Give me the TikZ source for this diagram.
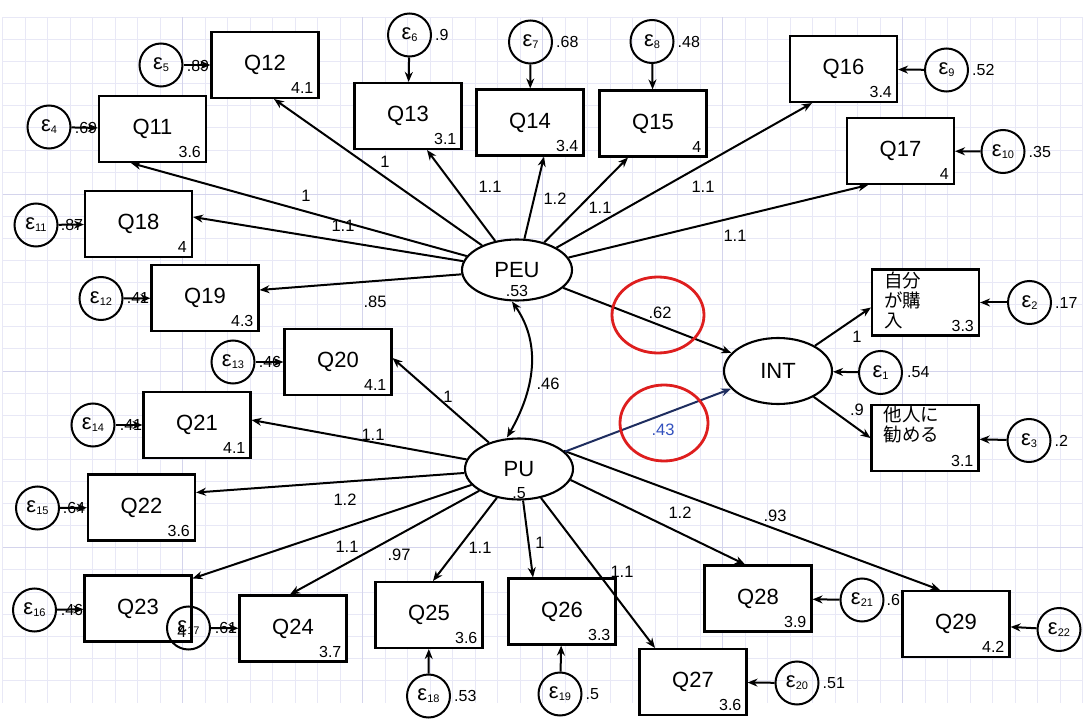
\documentclass[tikz,border=0pt]{standalone}
\usepackage{fontspec}
\setmainfont{Liberation Sans}
\newfontfamily\jafont{Noto Sans CJK JP}
\usetikzlibrary{arrows.meta,shapes.geometric,positioning}

\definecolor{gridminor}{RGB}{232,232,246}
\definecolor{gridmajor}{RGB}{212,212,236}
\definecolor{navyline}{RGB}{30,45,95}
\definecolor{bluetext}{RGB}{50,80,190}
\definecolor{hired}{RGB}{222,30,30}

\newcommand{\eps}[1]{ε\raisebox{-2pt}{\fontsize{11}{11}\selectfont #1}}

\begin{document}
\begin{tikzpicture}[x=1pt, y=-1pt,
  qbox/.style={draw, line width=2.1pt, fill=white, minimum width=107pt, minimum height=66pt, inner sep=0pt, font=\fontsize{22}{24}\selectfont},
  qval/.style={anchor=south east, inner xsep=6pt, inner ysep=5pt, font=\fontsize{16}{18}\selectfont},
  latent/.style={draw, ellipse, line width=2.1pt, fill=white, inner sep=0pt, font=\fontsize{22}{24}\selectfont},
  err/.style={draw, circle, line width=2pt, minimum size=43pt, inner sep=0pt, font=\fontsize{22}{23}\selectfont},
  evar/.style={inner sep=1pt, font=\fontsize{16}{18}\selectfont},
  coef/.style={inner sep=1pt, font=\fontsize{16.5}{19}\selectfont},
  jtext/.style={anchor=north west, align=left, inner sep=0pt, font=\jafont\fontsize{18.5}{20}\selectfont},
  loading/.style={line width=2pt, -{Stealth[length=10pt,width=8pt]}},
  cov/.style={line width=2pt, {Stealth[length=10pt,width=8pt]}-{Stealth[length=10pt,width=8pt]}},
  hilite/.style={draw=hired, line width=2.8pt}]

\useasboundingbox (0,0) rectangle (1085,722);
\fill[white] (0,0) rectangle (1085,722);

% grid paper
\begin{scope}[shift={(2.5,17.4)}]
\draw[gridminor, line width=0.9pt] (0,0) grid[xstep=22.5pt, ystep=22.1pt] (1080,685.1);
\end{scope}
\foreach \gx in {182.5,362.5,542.5,722.5,902.5}
  \draw[gridmajor, line width=0.9pt] (\gx,17.4) -- (\gx,702.5);
\foreach \gy in {194.2,371,547.8}
  \draw[gridmajor, line width=0.9pt] (2.5,\gy) -- (1082.5,\gy);

% error variances hidden under the arrows
\node[evar] (e5v) at (198,66) {.89};
\node[evar] (e4v) at (86,128) {.69};
\node[evar] (e11v) at (72,225) {.87};
\node[evar] (e12v) at (138,298) {.41};
\node[evar] (e13v) at (270,362) {.46};
\node[evar] (e14v) at (131,425) {.41};
\node[evar] (e15v) at (74,508) {.64};
\node[evar] (e16v) at (72,610) {.46};
\node[evar] (e17v) at (226,628) {.61};

% observed items
\node[qbox] (q12) at (265,65) {Q12};
\node[qbox] (q11) at (152.5,129) {Q11};
\node[qbox] (q18) at (138.5,224) {Q18};
\node[qbox] (q13) at (408,116) {Q13};
\node[qbox] (q14) at (530,122.5) {Q14};
\node[qbox] (q15) at (653,123.5) {Q15};
\node[qbox] (q16) at (843.5,69) {Q16};
\node[qbox] (q17) at (900.5,151) {Q17};
\node[qbox] (q19) at (205,298) {Q19};
\node[qbox] (q20) at (338,362) {Q20};
\node[qbox] (q21) at (197,425) {Q21};
\node[qbox] (q22) at (141.5,507.5) {Q22};
\node[qbox] (q23) at (138,608.5) {Q23};
\node[qbox] (q24) at (293,628.5) {Q24};
\node[qbox] (q25) at (429,615) {Q25};
\node[qbox] (q26) at (562,611.5) {Q26};
\node[qbox] (q27) at (693,682) {Q27};
\node[qbox] (q28) at (758,598.5) {Q28};
\node[qbox] (q29) at (956,624) {Q29};
\node[qbox] (buy) at (925.5,302.5) {};
\node[qbox] (rec) at (925,438) {};
\node[jtext] (buyt) at ([xshift=13pt,yshift=-3pt]buy.north west) {自分\\が購\\入};
\node[jtext] (rect) at ([xshift=13pt,yshift=-2pt]rec.north west) {他人に\\勧める};

% means
\node[qval] (q12v) at (q12.south east) {4.1};
\node[qval] (q11v) at (q11.south east) {3.6};
\node[qval] (q18v) at (q18.south east) {4};
\node[qval] (q13v) at (q13.south east) {3.1};
\node[qval] (q14v) at (q14.south east) {3.4};
\node[qval] (q15v) at (q15.south east) {4};
\node[qval] (q16v) at (q16.south east) {3.4};
\node[qval] (q17v) at (q17.south east) {4};
\node[qval] (q19v) at (q19.south east) {4.3};
\node[qval] (q20v) at (q20.south east) {4.1};
\node[qval] (q21v) at (q21.south east) {4.1};
\node[qval] (q22v) at (q22.south east) {3.6};
\node[qval] (q23v) at (q23.south east) {4};
\node[qval] (q24v) at (q24.south east) {3.7};
\node[qval] (q25v) at (q25.south east) {3.6};
\node[qval] (q26v) at (q26.south east) {3.3};
\node[qval] (q27v) at (q27.south east) {3.6};
\node[qval] (q28v) at (q28.south east) {3.9};
\node[qval] (q29v) at (q29.south east) {4.2};
\node[qval] (buyv) at (buy.south east) {3.3};
\node[qval] (recv) at (rec.south east) {3.1};

% latent factors
\node[latent, minimum width=110pt, minimum height=61pt] (peu) at (517,270) {PEU};
\node[latent, minimum width=108pt, minimum height=61pt] (pu) at (519,469) {PU};
\node[latent, minimum width=108pt, minimum height=66pt] (int) at (778,371) {INT};
\node[evar] (peuv) at (517,291) {.53};
\node[evar] (puv) at (519,493) {.5};

% error terms
\node[err] (e5) at (161,65) {\eps{5}};
\node[err] (e4) at (49,127) {\eps{4}};
\node[err] (e11) at (36,225) {\eps{11}};
\node[err] (e6) at (409.5,35) {\eps{6}};
\node[err] (e7) at (530.5,42) {\eps{7}};
\node[err] (e8) at (652,41.5) {\eps{8}};
\node[err] (e9) at (946.5,70) {\eps{9}};
\node[err] (e10) at (1003,151.5) {\eps{10}};
\node[err] (e12) at (101,298.5) {\eps{12}};
\node[err] (e13) at (233,362) {\eps{13}};
\node[err] (e14) at (93,425) {\eps{14}};
\node[err] (e15) at (37.5,508) {\eps{15}};
\node[err] (e16) at (34.5,610) {\eps{16}};
\node[err] (e17) at (188.5,628) {\eps{17}};
\node[err] (e18) at (428.5,696) {\eps{18}};
\node[err] (e19) at (560,694) {\eps{19}};
\node[err] (e20) at (797,683) {\eps{20}};
\node[err] (e21) at (862,600) {\eps{21}};
\node[err] (e22) at (1059,629.5) {\eps{22}};
\node[err] (e2) at (1029.5,302.5) {\eps{2}};
\node[err] (e1) at (880.5,372.5) {\eps{1}};
\node[err] (e3) at (1029,440.5) {\eps{3}};

\node[evar, right=2pt of e6] (e6v) {.9};
\node[evar, right=2pt of e7] (e7v) {.68};
\node[evar, right=2pt of e8] (e8v) {.48};
\node[evar, right=2pt of e9] (e9v) {.52};
\node[evar, right=2pt of e10] (e10v) {.35};
\node[evar, right=2pt of e18] (e18v) {.53};
\node[evar, right=2pt of e19] (e19v) {.5};
\node[evar, right=2pt of e20] (e20v) {.51};
\node[evar, right=1pt of e21] (e21v) {.6};
\node[evar, right=2pt of e2] (e2v) {.17};
\node[evar, right=3pt of e1] (e1v) {.54};
\node[evar, right=2pt of e3] (e3v) {.2};

% errors into items
\draw[loading] (e5) -- (q12);
\draw[loading] (e4) -- (q11);
\draw[loading] (e11) -- (q18);
\draw[loading] (e6) -- (q13);
\draw[loading] (e7) -- (q14);
\draw[loading] (e8) -- (q15);
\draw[loading] (e9) -- (q16);
\draw[loading] (e10) -- (q17);
\draw[loading] (e12) -- (q19);
\draw[loading] (e13) -- (q20);
\draw[loading] (e14) -- (q21);
\draw[loading] (e15) -- (q22);
\draw[loading] (e16) -- (q23);
\draw[loading] (e17) -- (q24);
\draw[loading] (e18) -- (q25);
\draw[loading] (e19) -- (q26);
\draw[loading] (e20) -- (q27);
\draw[loading] (e21) -- (q28);
\draw[loading] (e22) -- (q29);
\draw[loading] (e2) -- (buy);
\draw[loading] (e1) -- (int);
\draw[loading] (e3) -- (rec);

% PEU loadings
\draw[loading] (peu) -- ([xshift=9pt]q12.south);
\draw[loading] (peu) -- ([xshift=-21.5pt]q11.south);
\draw[loading] (peu) -- ([yshift=7pt]q18.east);
\draw[loading] (peu) -- ([xshift=19pt]q13.south);
\draw[loading] (peu) -- ([xshift=14pt]q14.south);
\draw[loading] (peu) -- ([xshift=-25pt]q15.south);
\draw[loading] (peu) -- ([xshift=-31.5pt]q16.south);
\draw[loading] (peu) -- ([xshift=-32.5pt]q17.south);
\draw[loading] (peu) -- ([yshift=8pt]q19.east);

% PU loadings
\draw[loading] (pu) -- ([yshift=4pt]q20.east);
\draw[loading] (pu) -- ([yshift=5pt]q21.east);
\draw[loading] (pu) -- ([yshift=15pt]q22.east);
\draw[loading] (pu) -- ([yshift=-4pt]q23.north east);
\draw[loading] (pu) -- ([xshift=-3pt]q24.north);
\draw[loading] (pu) -- ([xshift=4pt]q25.north);
\draw[loading] (pu) -- ([xshift=-29pt]q26.north);
\draw[loading] (pu) -- ([xshift=-38pt]q27.north);
\draw[loading] (pu.-12) -- ([xshift=-13pt]q28.north);
\draw[loading] (pu.22) -- ([xshift=-16pt]q29.north);

% structural part
\draw[loading] (int) -- ([yshift=-5pt]buy.west);
\draw[loading] (int) -- (rec.west);
\draw[loading] (peu) -- (int);
\draw[loading, draw=navyline] (pu) -- (int);
\draw[cov] ([xshift=-5pt]peu.south) to[out=-55,in=60] ([xshift=-12pt]pu.north);

% coefficients
\node[coef] (c12) at (385,162) {1};
\node[coef] (c11) at (306,196) {1};
\node[coef] (c18) at (343,226) {1.1};
\node[coef] (c13) at (490,187) {1.1};
\node[coef] (c14) at (555,199) {1.2};
\node[coef] (c15) at (600,208) {1.1};
\node[coef] (c16) at (703,187) {1.1};
\node[coef] (c17) at (735,236) {1.1};
\node[coef] (c19) at (375,302) {.85};
\node[coef] (c20) at (448,397) {1};
\node[coef] (c21) at (373,435) {1.1};
\node[coef] (c22) at (345,500) {1.2};
\node[coef] (c23) at (347,547) {1.1};
\node[coef] (c24) at (399,555) {.97};
\node[coef] (c25) at (480,548) {1.1};
\node[coef] (c26) at (540,543) {1};
\node[coef] (c27) at (622,572) {1.1};
\node[coef] (c28) at (680,513) {1.2};
\node[coef] (c29) at (775,516) {.93};
\node[coef] (cbuy) at (857,337) {1};
\node[coef] (crec) at (857,410) {.9};
\node[coef] (ccov) at (548,384) {.46};
\node[coef] (cpeu) at (660,313) {.62};
\node[coef, text=bluetext] (cpu) at (663,430) {.43};

% highlighted paths
\draw[hilite] (658,315) ellipse [x radius=46pt, y radius=38pt];
\draw[hilite] (664,423) ellipse [x radius=44pt, y radius=38pt];

\end{tikzpicture}
\end{document}
